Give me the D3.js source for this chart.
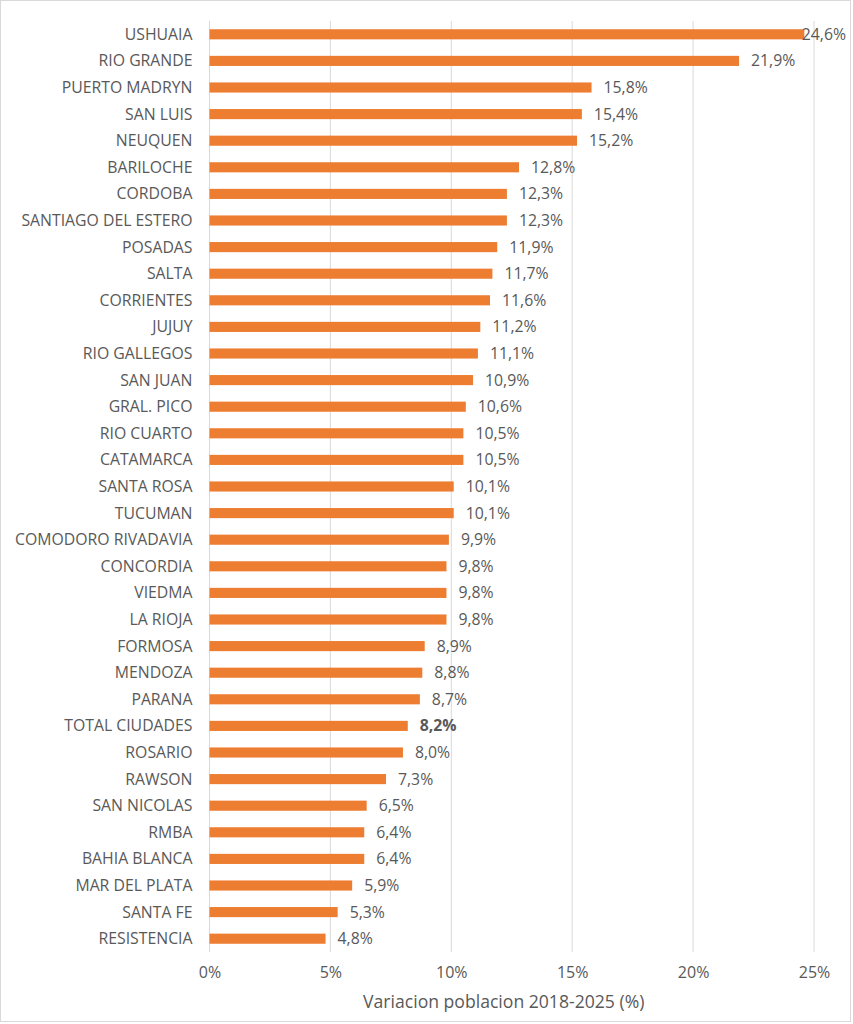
<!DOCTYPE html>
<html>
<head>
<meta charset="utf-8">
<script src="https://cdn.jsdelivr.net/npm/d3@7"></script>
<style>
  body { margin: 0; background: #fff; }
  svg text { font-family: "Open Sans", "Liberation Sans", sans-serif; fill: #595959; }
</style>
</head>
<body>
<svg></svg>
<script>
// data
const cities = ["USHUAIA", "RIO GRANDE", "PUERTO MADRYN", "SAN LUIS", "NEUQUEN", "BARILOCHE",
  "CORDOBA", "SANTIAGO DEL ESTERO", "POSADAS", "SALTA", "CORRIENTES", "JUJUY", "RIO GALLEGOS",
  "SAN JUAN", "GRAL. PICO", "RIO CUARTO", "CATAMARCA", "SANTA ROSA", "TUCUMAN",
  "COMODORO RIVADAVIA", "CONCORDIA", "VIEDMA", "LA RIOJA", "FORMOSA", "MENDOZA", "PARANA",
  "TOTAL CIUDADES", "ROSARIO", "RAWSON", "SAN NICOLAS", "RMBA", "BAHIA BLANCA",
  "MAR DEL PLATA", "SANTA FE", "RESISTENCIA"];
const variacion = [24.6, 21.9, 15.8, 15.4, 15.2, 12.8, 12.3, 12.3, 11.9, 11.7, 11.6, 11.2, 11.1,
  10.9, 10.6, 10.5, 10.5, 10.1, 10.1, 9.9, 9.8, 9.8, 9.8, 8.9, 8.8, 8.7, 8.2, 8.0, 7.3, 6.5,
  6.4, 6.4, 5.9, 5.3, 4.8];
const xTicks = [0, 5, 10, 15, 20, 25];
const totalLabel = "TOTAL CIUDADES";

const width = 853, height = 1024;
const margin = { top: 21, right: 39, bottom: 72, left: 209.5 };
const fontSize = "15.8px";

const svg = d3.select("svg")
    .attr("width", width)
    .attr("height", height);

// outer frame
svg.append("rect")
    .attr("x", 0.5).attr("y", 0.5)
    .attr("width", width - 3).attr("height", height - 3)
    .attr("fill", "#fff")
    .attr("stroke", "#d9d9d9");

const x = d3.scaleLinear()
    .domain([0, 25])
    .range([margin.left, width - margin.right]);

const y = d3.scaleBand()
    .domain(cities)
    .range([margin.top, height - margin.bottom])
    .paddingInner(0.62)
    .paddingOuter(0.31);

// gridlines
svg.append("g")
    .selectAll("line")
    .data(xTicks)
    .join("line")
    .attr("x1", d => x(d)).attr("x2", d => x(d))
    .attr("y1", margin.top).attr("y2", height - margin.bottom)
    .attr("stroke", "#d9d9d9")
    .attr("stroke-width", 1);

// bars
svg.append("g")
    .selectAll("rect")
    .data(cities)
    .join("rect")
    .attr("x", x(0))
    .attr("y", d => y(d))
    .attr("width", (d, i) => x(variacion[i]) - x(0))
    .attr("height", y.bandwidth())
    .attr("fill", "#ed7d31");

// value labels, kept inside the chart area on the right
const fmt = v => v.toFixed(1).replace(".", ",") + "%";
svg.append("g")
    .selectAll("text")
    .data(cities)
    .join("text")
    .attr("y", d => y(d) + y.bandwidth() / 2)
    .attr("dy", "0.35em")
    .style("font-size", fontSize)
    .style("font-weight", d => d === totalLabel ? "bold" : "normal")
    .text((d, i) => fmt(variacion[i]))
    .attr("x", function (d, i) {
        const w = this.getComputedTextLength();
        return Math.min(x(variacion[i]) + 12, width - 7 - w);
    });

// category labels
svg.append("g")
    .selectAll("text")
    .data(cities)
    .join("text")
    .attr("x", margin.left - 17)
    .attr("y", d => y(d) + y.bandwidth() / 2)
    .attr("dy", "0.35em")
    .attr("text-anchor", "end")
    .style("font-size", fontSize)
    .text(d => d);

// x axis tick labels
const xAxis = svg.append("g")
    .attr("transform", `translate(0,${height - margin.bottom})`)
    .call(d3.axisBottom(x).tickValues(xTicks).tickSize(0).tickPadding(15).tickFormat(d => d + "%"));
xAxis.select(".domain").remove();
xAxis.selectAll("text")
    .style("font-size", "16px")
    .style("font-family", null);

// axis title
svg.append("text")
    .attr("x", x(12.5) - 8)
    .attr("y", 1008)
    .attr("text-anchor", "middle")
    .style("font-size", "17.6px")
    .text("Variacion poblacion 2018-2025 (%)");
</script>
</body>
</html>
